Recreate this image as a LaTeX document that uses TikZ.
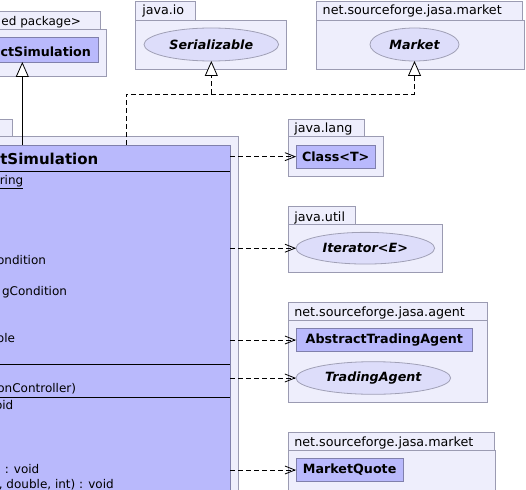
\documentclass[tikz,border=0pt]{standalone}
\usepackage{fontspec}
\setmainfont{DejaVu Sans}
\usetikzlibrary{shapes.geometric,arrows.meta}
\definecolor{pkgfill}{RGB}{238,238,252}
\definecolor{pkgline}{RGB}{155,155,178}
\definecolor{clsfill}{RGB}{185,185,252}
\definecolor{clsline}{RGB}{128,128,172}
\definecolor{iffill}{RGB}{221,221,250}
\definecolor{ifline}{RGB}{160,160,182}
\newcommand{\umlbox}[7]{\node[#1, minimum width={#5-#3}, minimum height={#6-#4}] (#2) at ({(#3+#5)/2},{(#4+#6)/2}) {#7};}
\begin{document}
\begin{tikzpicture}[x=1pt,y=-1pt, inner sep=0pt, outer sep=0pt,
 pkg/.style={draw=pkgline, fill=pkgfill, line width=0.8pt},
 cls/.style={draw=clsline, fill=clsfill, line width=0.8pt, font=\fontsize{12.7}{15}\selectfont\bfseries},
 iface/.style={ellipse, draw=ifline, fill=iffill, line width=0.8pt, font=\fontsize{12.7}{15}\selectfont\bfseries\itshape},
 lbl/.style={font=\fontsize{12.7}{15}\selectfont},
 mem/.style={font=\fontsize{12}{15}\selectfont},
 bold/.style={font=\fontsize{12.7}{15}\selectfont\bfseries},
 sep/.style={draw=black, line width=0.8pt},
 dep/.style={draw=black, line width=0.8pt, dash pattern=on 5pt off 3pt, -{Straight Barb[length=10pt,width=8pt]}},
 real/.style={draw=black, line width=0.8pt, dash pattern=on 5pt off 3pt, -{Triangle[length=15pt,width=13pt,fill=white]}},
 gen/.style={draw=black, line width=0.8pt, -{Triangle[length=15pt,width=13pt,fill=white]}},
 ]
\useasboundingbox (0,0) rectangle (526,489);
\clip (0,0) rectangle (526,489);
% top-left package
\umlbox{pkg}{tltab}{-100}{11}{100}{29}{}
\umlbox{pkg}{tlpkg}{-100}{29}{106}{76}{}
\node[mem, anchor=base east] (tlpkgname) at (81,25.5) {ed package>};
\umlbox{cls}{tlc}{-100}{37.3}{98.7}{62}{}
\node[bold, anchor=base east] (tlcname) at (91,57) {ctSimulation};
% java.io
\umlbox{pkg}{iotab}{135}{1}{195.7}{20}{}
\umlbox{pkg}{iopkg}{135}{20}{286.7}{69}{}
\node[lbl, anchor=base west] (ioname) at (142.3,15) {java.io};
\node[iface, minimum width=134.6, minimum height=33] (ser) at (211.3,44.5) {Serializable};
% market (top)
\umlbox{pkg}{mtab}{316}{1}{522.7}{20}{}
\umlbox{pkg}{mpkg}{316}{20}{524}{69}{}
\node[lbl, anchor=base west] (mname) at (322.7,15) {net.sourceforge.jasa.market};
\node[iface, minimum width=89, minimum height=33] (mkt) at (414.5,44.5) {Market};
% main package and class
\umlbox{pkg}{maintab}{-60}{119.3}{12.3}{136}{}
\umlbox{pkg}{mainpkg}{-300}{136}{238.7}{700}{}
\umlbox{cls}{sim}{-300}{145}{230.3}{700}{}
\node[font=\fontsize{15}{18}\selectfont\bfseries, anchor=base east] (simname) at (98.3,164) {tSimulation};
\coordinate (s1) at (0,171.3);
\coordinate (s2) at (0,364.3);
\coordinate (s3) at (0,397);
\draw[sep] (sim.west |- s1) -- (sim.east |- s1);
\draw[sep] (sim.west |- s2) -- (sim.east |- s2);
\draw[sep] (sim.west |- s3) -- (sim.east |- s3);
\node[mem, anchor=base east] (m1) at (23.3,184) {\underline{ring}};
\node[mem, anchor=base east] (m2) at (46,264.5) {ondition};
\node[mem, anchor=base east] (m3) at (67,295.7) {gCondition};
\node[mem, anchor=base east] (m4) at (15,342.7) {ble};
\node[mem, anchor=base east] (c1) at (76,392.5) {onController)};
\node[mem, anchor=base east] (o1) at (13.3,409.3) {oid};
\node[mem, anchor=base east] (o2) at (39.3,473) {) : void};
\node[mem, anchor=base east] (o3) at (113.7,488.5) {, double, int) : void};
% java.lang
\umlbox{pkg}{langtab}{288.3}{119.3}{364.3}{136}{}
\umlbox{pkg}{langpkg}{288.3}{136}{383.3}{176}{}
\node[lbl, anchor=base west] (langname) at (294.3,132.7) {java.lang};
\umlbox{cls}{cls}{296}{145}{375.3}{168.3}{Class<T>}
% java.util
\umlbox{pkg}{utiltab}{288.3}{206.7}{355.7}{224.3}{}
\umlbox{pkg}{utilpkg}{288.3}{224.3}{442.7}{272.3}{}
\node[lbl, anchor=base west] (utilname) at (294.3,221) {java.util};
\node[iface, minimum width=138.6, minimum height=31.7] (iter) at (365.3,248.2) {Iterator<E>};
% agent
\umlbox{pkg}{agtab}{288.3}{302.7}{487.7}{320.7}{}
\umlbox{pkg}{agpkg}{288.3}{320.7}{487.7}{402.3}{}
\node[lbl, anchor=base west] (agname) at (294.3,316.7) {net.sourceforge.jasa.agent};
\umlbox{cls}{ata}{296}{328.3}{472.7}{351.7}{AbstractTradingAgent}
\node[iface, minimum width=154.7, minimum height=32.6] (ta) at (373.3,378) {TradingAgent};
% market (bottom)
\umlbox{pkg}{mbtab}{288.3}{432.7}{494.3}{450.7}{}
\umlbox{pkg}{mbpkg}{288.3}{450.7}{495.7}{600}{}
\node[lbl, anchor=base west] (mbname) at (294.3,446.7) {net.sourceforge.jasa.market};
\umlbox{cls}{mq}{296}{458.3}{403.3}{481.7}{MarketQuote}
% connectors
\coordinate (j) at (126,94);
\coordinate (k) at (22.3,0);
\draw[gen] (sim.north -| k) -- (k |- tlc.south);
\draw[real] (sim.north -| j) -- (j) -- (j -| mkt.south) -- (mkt.south);
\draw[real] (ser.south |- j) -- (ser.south);
\draw[dep] (sim.east |- cls.west) -- (cls.west);
\draw[dep] (sim.east |- iter.west) -- (iter.west);
\draw[dep] (sim.east |- ata.west) -- (ata.west);
\draw[dep] (sim.east |- ta.west) -- (ta.west);
\draw[dep] (sim.east |- mq.west) -- (mq.west);
\end{tikzpicture}
\end{document}
